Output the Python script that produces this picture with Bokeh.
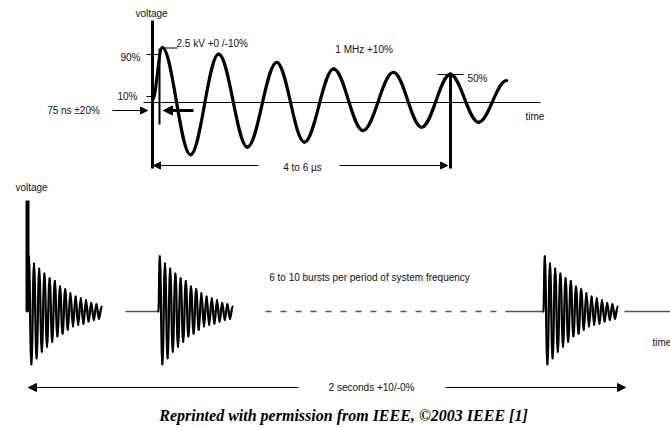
import numpy as np
from bokeh.plotting import figure
from bokeh.models import Range1d, Arrow, NormalHead, Label
from bokeh.embed import file_html
from bokeh.resources import INLINE

# ---------------- data ----------------
# Top: 1 MHz damped ring wave, extremes (time in µs, voltage in % of peak)
ring_t_us = [0.0, 0.17, 0.66, 1.15, 1.65, 2.16, 2.64, 3.15, 3.66, 4.19, 4.68, 5.18, 5.67, 6.16]
ring_v_pct = [4, 100, -95, 88, -81, 73, -72, 61, -51, 55, -45, 51, -36, 40]

# Bottom: one burst, extremes (time in cycles, voltage in % of first peak)
burst_t_cyc = [0.0, 0.25, 0.75, 1.25, 1.75, 2.25, 2.75, 3.25, 3.75, 4.25, 4.75, 5.25, 5.75,
               6.25, 6.75, 7.25, 7.75, 8.25, 8.75, 9.25, 9.75, 10.25, 10.75, 11.25, 11.75,
               12.25, 12.75, 13.25, 13.75, 14.25]
burst_v_pct = [0, 100, -96, 87, -85, 78, -73, 69, -64, 60, -55, 55, -45, 45, -40, 40, -33,
               33, -27, 27, -24, 24, -22, 20, -18, 15, -15, 13, -13, 9]
burst_start_cyc = [5.19, 30.38, 104.42]

W, H = 670, 427
p = figure(width=W, height=H, output_backend="svg", toolbar_location=None,
           x_range=Range1d(0, W), y_range=Range1d(H, 0),
           x_axis_location=None, y_axis_location=None,
           min_border=0, min_border_left=0, min_border_right=0,
           min_border_top=0, min_border_bottom=0)
p.grid.visible = False
p.outline_line_color = None
p.background_fill_color = "white"
p.border_fill_color = "white"

# panel scales: the library maps each panel's units onto the page
PX_PER_US = 57.5
T0 = 152.0
p.extra_x_ranges["us"] = Range1d((0 - T0) / PX_PER_US, (W - T0) / PX_PER_US)
p.extra_y_ranges["pct"] = Range1d((102 - H) / 0.55, (102 - 0) / 0.55)
PX_PER_CYC = 5.2
p.extra_x_ranges["cyc"] = Range1d(0, W / PX_PER_CYC)
p.extra_y_ranges["bpct"] = Range1d((311 - H) / 0.55, (311 - 0) / 0.55)


def bez(xs, ys, k=0.36):
    x = np.asarray(xs, float)
    y = np.asarray(ys, float)
    x0, x1, y0, y1 = x[:-1], x[1:], y[:-1], y[1:]
    dx = x1 - x0
    return dict(x0=x0, y0=y0, x1=x1, y1=y1,
                cx0=x0 + k * dx, cy0=y0, cx1=x1 - k * dx, cy1=y1)

FONT = "Liberation Sans"
def lab(x, y, t, align="left", size="10px", **kw):
    p.add_layout(Label(x=x, y=y, text=t, text_align=align, text_baseline="middle",
                       text_font=FONT, text_font_size=size, text_color="#111111", **kw))

def arrow(x0, y0, x1, y1, lw=1, size=7):
    p.add_layout(Arrow(end=NormalHead(size=size, fill_color="black", line_color="black", line_width=1),
                       x_start=x0, y_start=y0, x_end=x1, y_end=y1,
                       line_color="black", line_width=lw))

# ---------------- top panel ----------------
p.segment(x0=[143], y0=[102], x1=[540], y1=[102], line_color="black", line_width=1)
p.segment(x0=[152], y0=[20], x1=[152], y1=[168], line_color="black", line_width=3)
p.segment(x0=[146, 146, 437, 163], y0=[54, 96, 74, 47.5], x1=[160, 151, 463, 177],
          y1=[54, 96, 74, 47.5], line_color="black", line_width=1)
p.segment(x0=[159], y0=[48], x1=[159], y1=[124], line_color="black", line_width=2)
p.segment(x0=[450], y0=[72], x1=[450], y1=[168], line_color="black", line_width=3)

p.bezier(**bez(ring_t_us, ring_v_pct), line_color="black", line_width=3.2, line_cap="round",
         x_range_name="us", y_range_name="pct")

lab(151, 13, "voltage", align="center")
lab(130, 57, "90%", align="center")
lab(127, 96, "10%", align="center")
lab(176, 43, "2.5 kV +0 /-10%")
lab(365, 49, "1 MHz  +10%", align="center")
lab(467, 78, "50%")
lab(525, 116, "time")
lab(73, 110, "75 ns ±20%", align="center")
lab(302, 167, "4 to 6 µs", align="center")

arrow(112, 110, 147, 110, lw=1, size=7)
arrow(193, 110, 163, 110, lw=3, size=9)
arrow(258, 165, 153, 165, lw=1, size=7)
arrow(339, 165, 447, 165, lw=1, size=7)

# ---------------- bottom panel ----------------
p.segment(x0=[27, 158, 543], y0=[311] * 3, x1=[101, 232, 618], y1=[311] * 3,
          line_color="#aaaaaa", line_width=1)
p.segment(x0=[125, 505, 624], y0=[311] * 3, x1=[158, 543, 670], y1=[311] * 3,
          line_color="#555555", line_width=1.5)
p.segment(x0=[265], y0=[311], x1=[505], y1=[311], line_color="#555555", line_width=1.5,
          line_dash="6 9")
p.segment(x0=[27], y0=[200], x1=[27], y1=[311], line_color="black", line_width=4)

for s in burst_start_cyc:
    p.bezier(**bez(np.asarray(burst_t_cyc) + s, burst_v_pct), line_color="black",
             line_width=2.3, line_cap="round", x_range_name="cyc", y_range_name="bpct")

lab(31, 187, "voltage", align="center")
lab(369, 277, "6 to 10 bursts per period of system frequency", align="center")
lab(652, 342, "time")
lab(371, 387, "2 seconds +10/-0%", align="center")
arrow(298, 387, 28, 387, lw=1, size=8)
arrow(445, 387, 625, 387, lw=1, size=8)

p.add_layout(Label(x=343, y=415, text="Reprinted with permission from IEEE, ©2003 IEEE [1]",
                   text_align="center", text_baseline="middle", text_font="Liberation Serif",
                   text_font_style="bold italic", text_font_size="16px", text_color="black"))

open("out.html", "w").write(file_html(p, INLINE))
